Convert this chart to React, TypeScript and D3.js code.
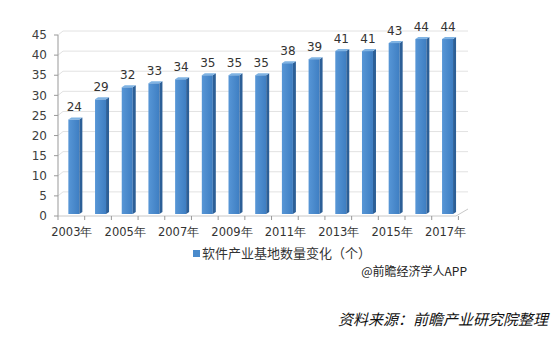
import React from "react";
import * as d3 from "d3";

const years = ["2003","2004","2005","2006","2007","2008","2009","2010","2011","2012","2013","2014","2015","2016","2017"];
const counts = [24, 29, 32, 33, 34, 35, 35, 35, 38, 39, 41, 41, 43, 44, 44];
const yTicks = [0, 5, 10, 15, 20, 25, 30, 35, 40, 45];
const seriesName = "软件产业基地数量变化（个）";
const credit = "@前瞻经济学人APP";
const source = "资料来源：前瞻产业研究院整理";

export default function App() {
  const W = 559, H = 338;
  const x = d3.scaleBand<string>().domain(years).range([58, 458.4]).padding(0);
  const y = d3.scaleLinear().domain([0, 45]).range([216, 35]);
  const bw = x.bandwidth();
  const font = "'DejaVu Sans', Verdana, sans-serif";
  const depthX = 5, depthY = 4;
  return (
    <svg width={W} height={H} style={{ position: "absolute", left: 0, top: 0, background: "#fff" }}>
      <defs>
        <linearGradient id="front" x1="0" x2="1" y1="0" y2="0">
          <stop offset="0" stopColor="#5796d6" />
          <stop offset="1" stopColor="#3e7ec2" />
        </linearGradient>
      </defs>
      {/* gridlines */}
      {yTicks.slice(1).map((t) => (
        <path key={t} d={`M58,${y(t)} L${58 + depthX},${y(t) - depthY} H468`} fill="none" stroke="#e2e2e2" strokeWidth={1} />
      ))}
      {/* floor */}
      <path d={`M58,${y(0)} H456 L468,${y(0) - 7}`} fill="none" stroke="#c8c8c8" strokeWidth={1} />
      {/* y axis */}
      <line x1={58} x2={58} y1={y(45)} y2={y(0)} stroke="#999" />
      {yTicks.map((t) => (
        <g key={t}>
          <line x1={54} x2={58} y1={y(t)} y2={y(t)} stroke="#999" />
          <text x={47} y={y(t)} dy="0.35em" textAnchor="end" fontSize={12} fill="#404040" fontFamily={font}>{t}</text>
        </g>
      ))}
      {/* x ticks */}
      {years.map((yr, i) => (
        <line key={yr} x1={(x(yr) as number)} x2={(x(yr) as number)} y1={y(0)} y2={y(0) + 4} stroke="#999" />
      ))}
      <line x1={458.4} x2={458.4} y1={y(0)} y2={y(0) + 4} stroke="#999" />
      {/* bars */}
      {years.map((yr, i) => {
        const c = (x(yr) as number) + bw / 2;
        const x0 = c - 3, w = 11, s = 3;
        const top = y(counts[i]);
        const bot = y(0) - 2;
        return (
          <g key={yr}>
            <rect x={x0} y={top} width={w} height={bot - top} fill="url(#front)" />
            <path d={`M${x0 + w},${top} L${x0 + w + s},${top - 2} V${bot - 2} L${x0 + w},${bot} Z`} fill="#2c5f97" />
            <path d={`M${x0},${top} L${x0 + s},${top - 2} H${x0 + w + s} L${x0 + w},${top} Z`} fill="#7fb3e3" />
            <text x={c + 3} y={top - 8} textAnchor="middle" fontSize={12} fill="#333" fontFamily={font}>{counts[i]}</text>
          </g>
        );
      })}
      {/* x labels */}
      {years.map((yr, i) => i % 2 === 0 ? (
        <text key={yr} x={(x(yr) as number) + bw / 2 + 0.5} y={236} textAnchor="middle" fontSize={11.5} fill="#333" fontFamily={font}>{yr}年</text>
      ) : null)}
      {/* legend */}
      <rect x={193} y={250} width={7} height={7} fill="#4a8acb" />
      <text x={202} y={257.5} fontSize={13} fill="#333" fontFamily="'Noto Sans CJK SC', sans-serif">{seriesName}</text>
      <text x={467} y={276} textAnchor="end" fontSize={12} fill="#222" fontFamily="'Noto Sans CJK SC', sans-serif">{credit}</text>
      <text x={548} y={325} textAnchor="end" fontSize={15} fontStyle="italic" fill="#111" fontFamily="'Noto Sans CJK SC', sans-serif" transform="skewX(0)">{source}</text>
    </svg>
  );
}
